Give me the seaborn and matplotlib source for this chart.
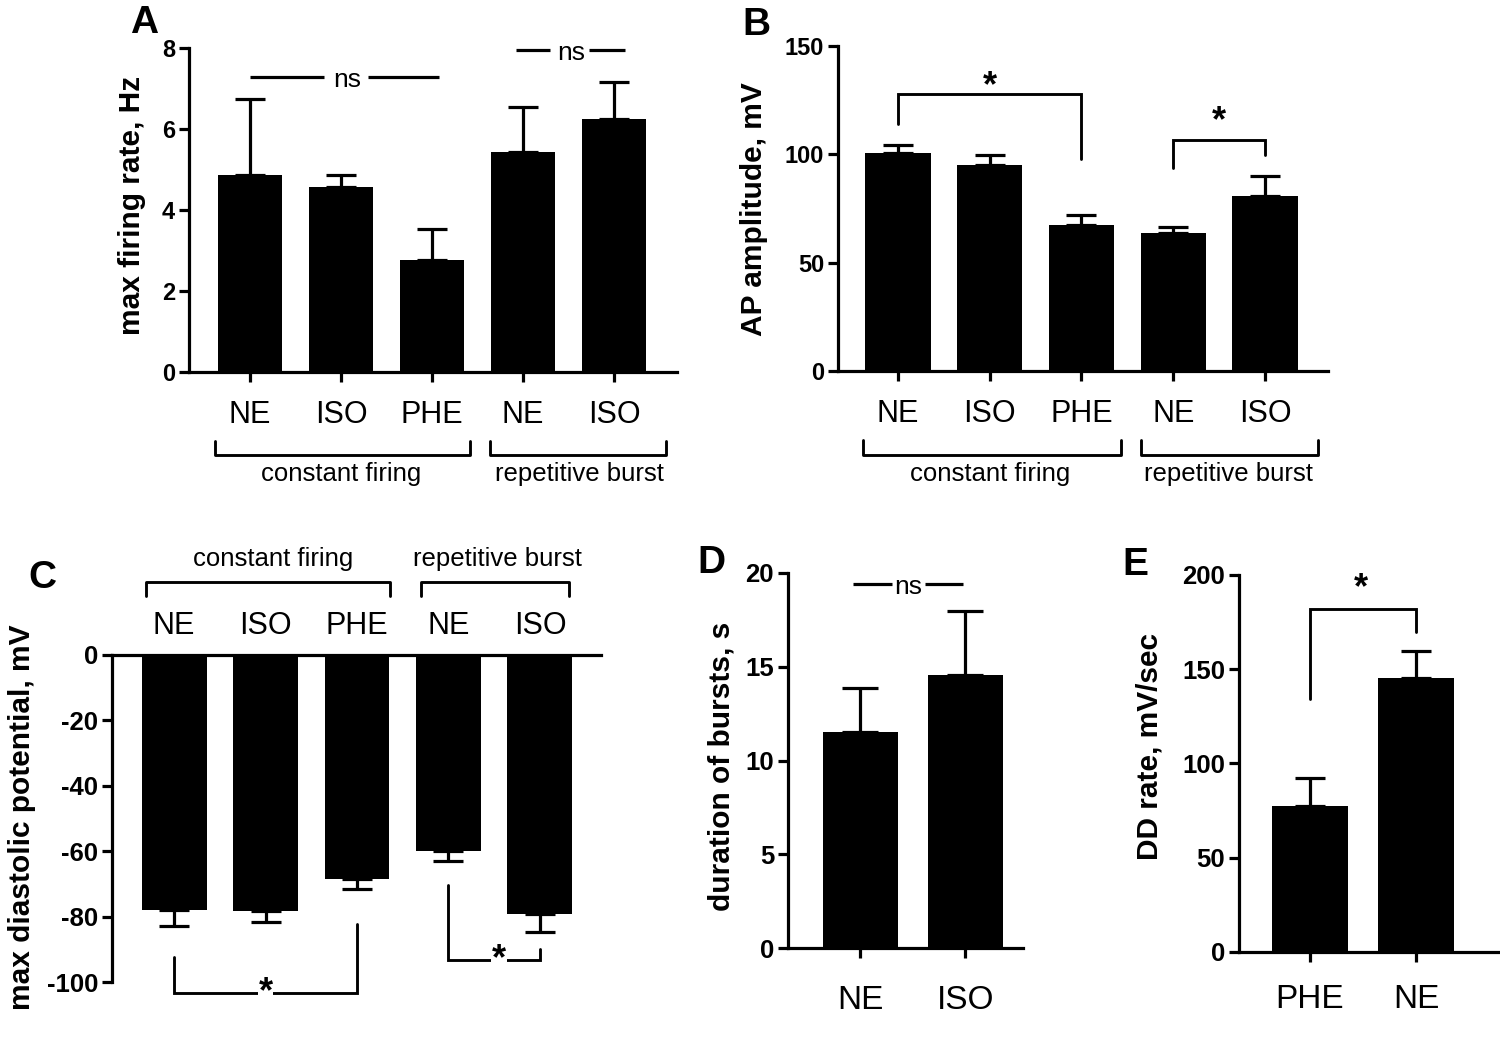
#!/usr/bin/env python3
"""
Adrenergic agonist effects on firing properties (panels A-E).

Bar charts (mean + SEM) of max firing rate, AP amplitude, max diastolic
potential, burst duration and DD rate for NE / ISO / PHE.

Usage:
    python3 plot.py
"""

import numpy as np
import matplotlib
matplotlib.use("Agg")
import matplotlib.pyplot as plt
import matplotlib.transforms as mtransforms
import seaborn as sns

# ---------------------------------------------------------------------------
# Data
# ---------------------------------------------------------------------------
group_labels = ['constant firing', 'repetitive burst']

a_labels = ['NE', 'ISO', 'PHE', 'NE', 'ISO']
a_mean = [4.87, 4.57, 2.76, 5.44, 6.25]
a_sem = [1.87, 0.30, 0.77, 1.11, 0.92]

b_labels = ['NE', 'ISO', 'PHE', 'NE', 'ISO']
b_mean = [100.5, 95.2, 67.4, 63.5, 80.8]
b_sem = [3.5, 4.3, 4.4, 3.1, 9.2]

c_labels = ['NE', 'ISO', 'PHE', 'NE', 'ISO']
c_mean = [-78.0, -78.4, -68.6, -59.9, -79.2]
c_sem = [4.8, 3.4, 3.0, 3.0, 5.5]

d_labels = ['NE', 'ISO']
d_mean = [11.52, 14.57]
d_sem = [2.36, 3.39]

e_labels = ['PHE', 'NE']
e_mean = [77.3, 145.3]
e_sem = [14.7, 14.2]

W, H = 1500, 1037
LW = 2.3


def px_axes(fig, left, right, top, bottom):
    """Add axes given pixel edges of the plotting area."""
    return fig.add_axes([left / W, 1 - bottom / H, (right - left) / W, (bottom - top) / H])


def style_axes(ax, ticks, tick_size):
    """GraphPad-like axes: thick left/bottom spines, bold numbers."""
    sns.despine(ax=ax)
    for side in ['left', 'bottom', 'top']:
        ax.spines[side].set_linewidth(LW)
        ax.spines[side].set_color('black')
    ax.set_yticks(ticks)
    ax.set_yticklabels([str(t) for t in ticks], fontsize=tick_size, fontweight='bold')
    ax.tick_params(axis='y', length=7, width=LW, pad=3, color='black', labelcolor='black')
    ax.tick_params(axis='x', length=7.5, width=LW, color='black', labelcolor='black')
    ax.set_xlabel('')


def draw_bars(ax, mean, sem, upward=True, capsize=11):
    """Black bars with one-sided SEM error bars."""
    n = len(mean)
    x = np.arange(n)
    sns.barplot(x=x, y=mean, color='black', saturation=1, width=0.71,
                errorbar=None, ax=ax, linewidth=0)
    zeros = np.zeros(n)
    yerr = [zeros, sem] if upward else [sem, zeros]
    ax.errorbar(x, mean, yerr=yerr, fmt='none', ecolor='black',
                elinewidth=LW, capsize=capsize, capthick=LW)
    return x


def set_ylabel_px(ax, text, x_px, y_px, left, right, top, bottom, size=21.5):
    """Place a bold y label centred at a pixel position."""
    ax.set_ylabel(text, fontsize=size, fontweight='bold', va='center', color='black')
    ax.yaxis.set_label_coords((x_px - left) / (right - left), (bottom - y_px) / (bottom - top))


def add_star(fig, ax, x, y, size=26):
    """Bold asterisk visually centred on (x, y) in data units."""
    tr = mtransforms.offset_copy(ax.transData, fig=fig, y=-0.55 * size, units='points')
    ax.text(x, y, '*', fontsize=size, fontweight='bold', ha='center', va='baseline',
            transform=tr, clip_on=False)


def ns_line(ax, x0, x1, g0, g1, xt, y, size=19):
    """Horizontal 'ns' line with a gap for the text."""
    ax.plot([x0, g0], [y, y], color='black', lw=LW, clip_on=False, solid_capstyle='butt')
    ax.plot([g1, x1], [y, y], color='black', lw=LW, clip_on=False, solid_capstyle='butt')
    ax.text(xt, y, 'ns', fontsize=size, ha='center', va='center_baseline', clip_on=False)


def bracket(ax, x0, x1, y, y0, y1):
    """Significance bracket: horizontal at y, legs to y0 (left) and y1 (right)."""
    ax.plot([x0, x0, x1, x1], [y0, y, y, y1], color='black', lw=LW * 0.9,
            clip_on=False, solid_joinstyle='miter')


def group_brackets(ax, spans, y, y_leg, label_pos, y_text):
    """Group brackets drawn in axes-y coordinates outside the plot area."""
    tr = mtransforms.blended_transform_factory(ax.transData, ax.transAxes)
    for (x0, x1), name, xt in zip(spans, group_labels, label_pos):
        ax.plot([x0, x0, x1, x1], [y_leg, y, y, y_leg], color='black', lw=LW * 0.9,
                transform=tr, clip_on=False)
        ax.text(xt, y_text, name, fontsize=18.5, ha='center', va='center', transform=tr)


def panel_a(fig):
    left, right, top, bottom = 189, 677, 48, 372
    ax = px_axes(fig, left, right, top, bottom)
    x = draw_bars(ax, a_mean, a_sem)
    style_axes(ax, [0, 2, 4, 6, 8], 17)
    ax.set_ylim(0, 8)
    ax.set_xlim(-0.670, 4.692)
    ax.set_xticks(x)
    ax.set_xticklabels(a_labels, fontsize=22)
    ax.tick_params(axis='x', pad=13)
    set_ylabel_px(ax, 'max firing rate, Hz', 132, 205, left, right, top, bottom)
    ns_line(ax, 0, 2.08, 0.81, 1.30, 1.07, 7.28)
    ns_line(ax, 2.92, 4.12, 3.30, 3.73, 3.53, 7.94)
    group_brackets(ax, [(-0.38, 2.42), (2.64, 4.57)], -0.256, -0.212, [1.0, 3.62], -0.315)
    return ax


def panel_b(fig):
    left, right, top, bottom = 838, 1328, 45.7, 371
    ax = px_axes(fig, left, right, top, bottom)
    x = draw_bars(ax, b_mean, b_sem)
    style_axes(ax, [0, 50, 100, 150], 17)
    ax.set_ylim(0, 150)
    ax.set_xlim(-0.654, 4.687)
    ax.set_xticks(x)
    ax.set_xticklabels(b_labels, fontsize=22)
    ax.tick_params(axis='x', pad=13)
    set_ylabel_px(ax, 'AP amplitude, mV', 754, 209, left, right, top, bottom)
    bracket(ax, 0, 2, 127.7, 114, 97.8)
    add_star(fig, ax, 1.0, 135.7)
    bracket(ax, 3, 4, 106.7, 93.5, 99.7)
    add_star(fig, ax, 3.5, 119.7)
    group_brackets(ax, [(-0.38, 2.43), (2.65, 4.58)], -0.257, -0.213, [1.0, 3.6], -0.318)
    return ax


def panel_c(fig):
    left, right, top, bottom = 112, 601, 655, 982
    ax = px_axes(fig, left, right, top, bottom)
    x = draw_bars(ax, c_mean, c_sem, upward=False)
    style_axes(ax, [-100, -80, -60, -40, -20, 0], 18.5)
    ax.spines['bottom'].set_visible(False)
    ax.spines['top'].set_visible(True)
    ax.set_ylim(-100, 0)
    ax.set_xlim(-0.678, 4.667)
    ax.xaxis.tick_top()
    ax.set_xticks(x)
    ax.set_xticklabels(c_labels, fontsize=22)
    ax.tick_params(axis='x', length=0, pad=10)
    set_ylabel_px(ax, 'max diastolic potential, mV', 22, 817, left, right, top, bottom)
    bracket(ax, 0, 2, -103.3, -92.3, -82.3)
    ax.text(1.0, -103.3, '*', fontsize=26, fontweight='bold', ha='center', va='center',
            clip_on=False, bbox=dict(facecolor='white', edgecolor='none', pad=0.5))
    bracket(ax, 3, 4, -93.3, -70.4, -89.9)
    ax.text(3.55, -93.3, '*', fontsize=26, fontweight='bold', ha='center', va='center',
            clip_on=False, bbox=dict(facecolor='white', edgecolor='none', pad=0.5))
    group_brackets(ax, [(-0.31, 2.36), (2.70, 4.32)], 1.223, 1.18, [1.08, 3.53], 1.294)
    return ax


def panel_d(fig):
    left, right, top, bottom = 788, 1023, 573, 948
    ax = px_axes(fig, left, right, top, bottom)
    x = draw_bars(ax, d_mean, d_sem, capsize=13)
    style_axes(ax, [0, 5, 10, 15, 20], 18.5)
    ax.set_ylim(0, 20)
    ax.set_xlim(-0.690, 1.548)
    ax.set_xticks(x)
    ax.set_xticklabels(d_labels, fontsize=24)
    ax.tick_params(axis='x', pad=19)
    set_ylabel_px(ax, 'duration of bursts, s', 721, 766, left, right, top, bottom)
    ns_line(ax, -0.07, 0.98, 0.30, 0.61, 0.45, 19.4)
    return ax


def panel_e(fig):
    left, right, top, bottom = 1239, 1500, 575, 951.7
    ax = px_axes(fig, left, right, top, bottom)
    x = draw_bars(ax, e_mean, e_sem)
    style_axes(ax, [0, 50, 100, 150, 200], 18.5)
    ax.set_ylim(0, 200)
    ax.set_xlim(-0.670, 1.792)
    ax.set_xticks(x)
    ax.set_xticklabels(e_labels, fontsize=24)
    ax.tick_params(axis='x', pad=16)
    set_ylabel_px(ax, 'DD rate, mV/sec', 1150, 746, left, right, top, bottom)
    bracket(ax, 0, 1, 182, 134, 169.6)
    add_star(fig, ax, 0.48, 198)
    return ax


def main():
    sns.set_style('ticks')
    plt.rcParams['font.family'] = ['Liberation Sans', 'DejaVu Sans']
    plt.rcParams['text.color'] = 'black'
    plt.rcParams['axes.labelcolor'] = 'black'
    plt.rcParams['axes.edgecolor'] = 'black'
    plt.rcParams['xtick.color'] = 'black'
    plt.rcParams['ytick.color'] = 'black'

    fig = plt.figure(figsize=(15, 10.37), dpi=100)
    fig.patch.set_facecolor('white')

    panel_a(fig)
    panel_b(fig)
    panel_c(fig)
    panel_d(fig)
    panel_e(fig)

    # panel letters (baseline positions in pixels)
    for letter, (px, py) in zip('ABCDE', [(144, 33), (756, 35), (42, 588), (711, 573), (1135, 575)]):
        fig.text(px / W, 1 - py / H, letter, fontsize=28, fontweight='bold',
                 ha='center', va='baseline')

    fig.savefig('out.png', dpi=100, facecolor='white')
    plt.close(fig)


if __name__ == '__main__':
    main()
